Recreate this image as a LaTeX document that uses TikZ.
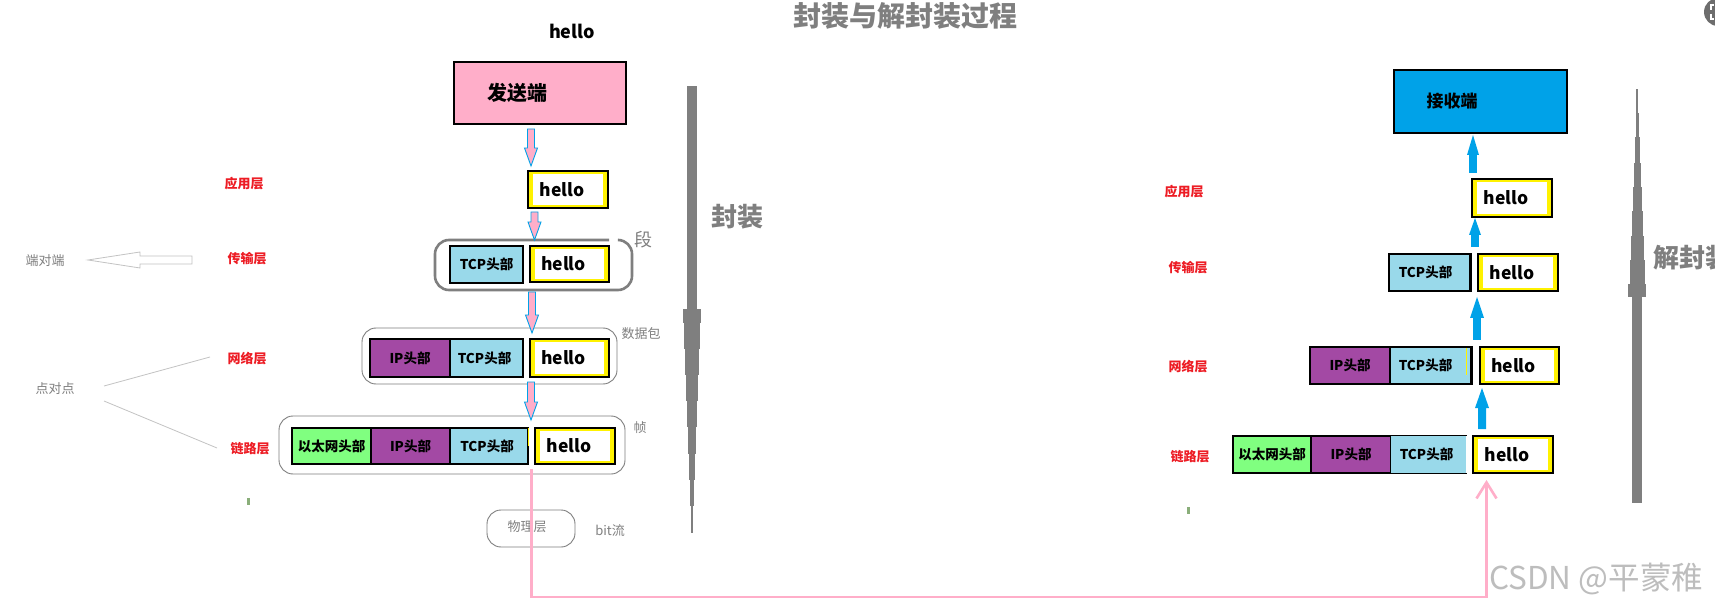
\documentclass[tikz,border=0pt]{standalone}
\usepackage{fontspec}
\newfontfamily\cjk{Noto Sans CJK SC}
\usetikzlibrary{arrows.meta}
\definecolor{pinkP}{HTML}{FFAEC9}
\definecolor{blueP}{HTML}{00A2E8}
\definecolor{lblue}{HTML}{99D9EA}
\definecolor{purpleP}{HTML}{A349A4}
\definecolor{greenP}{HTML}{80FF80}
\definecolor{yellowP}{HTML}{FFF200}
\definecolor{redP}{HTML}{ED1C24}
\definecolor{grayP}{HTML}{7F7F7F}
\definecolor{lgrayP}{HTML}{C3C3C3}
\definecolor{tickG}{HTML}{8AAE7A}
\definecolor{iconG}{HTML}{6D6D6D}
\definecolor{wmark}{HTML}{BDBDBD}
\begin{document}
\begin{tikzpicture}[x=1pt,y=-1pt,
  box/.style={draw=black, line width=1.2pt, inner sep=0pt, text=black,
    font=\cjk\bfseries\fontsize{13.5}{14}\selectfont},
  hellobox/.style={draw=black, line width=1.2pt, fill=yellowP, inner sep=0pt,
    font=\cjk\bfseries\fontsize{17.5}{18}\selectfont,
    path picture={\fill[white] ([xshift=5pt,yshift=3pt]path picture bounding box.south west)
      rectangle ([xshift=-5pt,yshift=-3pt]path picture bounding box.north east);}},
  layer/.style={font=\cjk\bfseries\fontsize{13}{13}\selectfont, text=redP, inner sep=0pt},
  note/.style={font=\cjk\fontsize{13}{13}\selectfont, text=grayP, inner sep=0pt},
  group/.style={draw=grayP, line width=0.9pt, rounded corners=14pt},
  pinkarrow/.style={fill=pinkP, draw=blueP, line width=0.9pt},
  bluearrow/.style={fill=blueP},
  pinkline/.style={draw=pinkP, line width=2.6pt},
  bigtitle/.style={font=\cjk\bfseries\fontsize{28}{30}\selectfont, text=grayP, inner sep=0pt},
  sidetitle/.style={font=\cjk\bfseries\fontsize{26}{27}\selectfont, text=grayP, inner sep=0pt}
]
\path[use as bounding box, fill=white] (0,0) rectangle (1715,609);
\clip (0,0) rectangle (1715,609);

% title
\node[bigtitle] (title) at (905,16) {封装与解封装过程};
\node[font=\cjk\bfseries\fontsize{18}{18}\selectfont, inner sep=0pt] (tophello) at (572,31) {hello};

% ---------- sender ----------
\node[box, fill=pinkP, minimum width=172pt, minimum height=62pt,
  font=\cjk\bfseries\fontsize{20}{20}\selectfont] (sSend) at (540,93) {发送端\kern46pt};
\node[hellobox, minimum width=80pt, minimum height=37pt] (sAppHello) at (568,189.5) {hello\kern12pt};

\draw[group, line width=2.6pt] (609,240) -- (435,240) -- (435,290) -- (632,290) -- (632,240) -- (619,240);
\node[box, fill=lblue, minimum width=73pt, minimum height=37pt] (sTrTCP) at (486.5,264.5) {TCP头部};
\node[hellobox, minimum width=79pt, minimum height=36pt] (sTrHello) at (569.5,264) {hello\kern12pt};

\draw[group] (362,328) rectangle (617,384);
\node[box, fill=purpleP, minimum width=80pt, minimum height=38pt] (sNetIP) at (410,358) {IP头部};
\node[box, fill=lblue, minimum width=73pt, minimum height=38pt] (sNetTCP) at (486.5,358) {TCP头部\kern4pt};
\node[hellobox, minimum width=79pt, minimum height=38pt] (sNetHello) at (569.5,358) {hello\kern12pt};

\draw[group] (279,416) rectangle (625,474);
\node[box, fill=greenP, minimum width=79pt, minimum height=36pt] (sLinkEth) at (331.5,446) {以太网头部};
\node[box, fill=purpleP, minimum width=79pt, minimum height=36pt] (sLinkIP) at (410.5,446) {IP头部};
\node[box, fill=lblue, minimum width=78pt, minimum height=36pt] (sLinkTCP) at (489,446) {TCP头部\kern4pt};
\fill[yellowP] (527.5,428) rectangle (529,446);
\node[hellobox, minimum width=80pt, minimum height=36pt] (sLinkHello) at (575,446) {hello\kern12pt};

\draw[group] (487,510) rectangle (575,547);
\node[note] (phys) at (527,527) {物理层};
\node[note] (bits) at (610,531) {bit流};

\node[font=\cjk\fontsize{18}{18}\selectfont, text=grayP, inner sep=0pt] (seg) at (643,240) {段};
\node[note] (pkt) at (641,334) {数据包};
\node[note] (frm) at (640,428) {帧};

% pink down arrows
\foreach \x/\a/\b in {531/129/166, 534.5/212/240, 532/292/333, 531/382/420}{
  \draw[pinkarrow] (\x-3.5,\a) -- (\x+3.5,\a) -- (\x+3.5,\b-18) -- (\x+6.5,\b-18) -- (\x,\b)
    -- (\x-6.5,\b-18) -- (\x-3.5,\b-18) -- cycle;
}

% layer labels (sender)
\node[layer] (sL1) at (244,184) {应用层};
\node[layer] (sL2) at (247,259) {传输层};
\node[layer] (sL3) at (247,359) {网络层};
\node[layer] (sL4) at (250,449) {链路层};

% left notes
\node[note] (e2e) at (45,261) {端对端};
\draw[lgrayP, line width=0.8pt, fill=white] (88,260) -- (140,252) -- (140,256) -- (192,256)
  -- (192,264) -- (140,264) -- (140,268) -- cycle;
\node[note] (p2p) at (55,389) {点对点};
\coordinate (pa1) at (104,386); \coordinate (pa2) at (210,357);
\coordinate (pb1) at (104,401); \coordinate (pb2) at (217,448);
\draw[lgrayP, line width=0.8pt] (pa1) -- (pa2);
\draw[lgrayP, line width=0.8pt] (pb1) -- (pb2);

% ticks
\fill[tickG] (247,498) rectangle (249.5,505);
\fill[tickG] (1187,507) rectangle (1189.5,514);

% encapsulation bar
\foreach \a/\b/\h in {86/309/5, 309/323/9, 323/349/8, 349/375/7, 375/401/6, 401/427/5,
  427/454/4, 454/480/3, 480/506/2, 506/533/1}{
  \fill[grayP] (692-\h,\a) rectangle (692+\h,\b);
}
\node[sidetitle] (enc) at (737,217) {封装};

% ---------- receiver ----------
\node[box, fill=blueP, minimum width=173pt, minimum height=63pt,
  font=\cjk\bfseries\fontsize{17}{17}\selectfont] (rRecv) at (1480.5,101.5) {接收端\kern57pt};
\node[hellobox, minimum width=80pt, minimum height=38pt] (rAppHello) at (1512,198) {hello\kern12pt};

\node[box, fill=lblue, minimum width=81pt, minimum height=37pt] (rTrTCP) at (1429.5,272.5) {TCP头部\kern8pt};
\draw[black, line width=2.4pt] (rTrTCP.north east) -- (rTrTCP.south east);
\node[hellobox, minimum width=80pt, minimum height=37pt] (rTrHello) at (1518,272.5) {hello\kern12pt};

\node[box, fill=purpleP, minimum width=80pt, minimum height=37pt] (rNetIP) at (1350,365.5) {IP头部};
\node[box, fill=lblue, minimum width=81pt, minimum height=37pt] (rNetTCP) at (1430.5,365.5) {TCP头部\kern10pt};
\draw[yellowP, line width=0.8pt] (1466,348) -- (1466,375);
\draw[black, line width=2.4pt] (rNetTCP.north east) -- (rNetTCP.south east);
\node[hellobox, minimum width=79pt, minimum height=37pt] (rNetHello) at (1519.5,365.5) {hello\kern12pt};

\node[box, fill=greenP, minimum width=78pt, minimum height=37pt] (rLinkEth) at (1272,454.5) {以太网头部};
\node[box, fill=purpleP, minimum width=80pt, minimum height=37pt] (rLinkIP) at (1351,454.5) {IP头部};
\node[box, draw=none, fill=lblue, minimum width=75pt, minimum height=37pt] (rLinkTCP) at (1428.5,454.5) {TCP头部\kern4pt};
\draw[black, line width=1.2pt] (rLinkTCP.north west) -- (rLinkTCP.north east)
  (rLinkTCP.south west) -- (rLinkTCP.south east);
\node[hellobox, minimum width=80pt, minimum height=37pt] (rLinkHello) at (1513,454.5) {hello\kern12pt};

% blue up arrows
\foreach \x/\a/\b/\hw/\sw/\hl in {1473/135/173/6/3.8/20, 1475/218/247/6/3.8/17, 1477/297/340/7/3.8/21, 1482/388/429/7/4/20}{
  \fill[bluearrow] (\x,\a) -- (\x+\hw,\a+\hl) -- (\x+\sw,\a+\hl) -- (\x+\sw,\b) -- (\x-\sw,\b)
    -- (\x-\sw,\a+\hl) -- (\x-\hw,\a+\hl) -- cycle;
}

\node[layer] (rL1) at (1184,192) {应用层};
\node[layer] (rL2) at (1188,268) {传输层};
\node[layer] (rL3) at (1188,367) {网络层};
\node[layer] (rL4) at (1190,457) {链路层};

% decapsulation bar
\foreach \a/\b/\h in {89/113/1, 113/137/1.5, 137/163/2.5, 163/187/3.5, 187/211/4.5, 211/236/5.5,
  236/260/6.5, 260/284/7.5, 284/297/9, 297/503/4.7}{
  \fill[grayP] (1637-\h,\a) rectangle (1637+\h,\b);
}
\node[sidetitle, anchor=west] (dec) at (1653,258) {解封装};

% pink transmission line
\coordinate (pA) at (531.5,469);
\coordinate (pB) at (1486.5,480);
\draw[pinkline, line join=miter, -{Straight Barb[length=16pt,width=20pt]}]
  (pA) -- (pA |- 0,597) -- (pB |- 0,597) -- (pB);

% icon and watermark
\node[circle, fill=iconG, minimum size=28pt, inner sep=0pt] (icon) at (1718,12) {};
\draw[white, line width=1.2pt] (1714,5) -- (1711,5) -- (1711,10) (1711,14) -- (1711,19) -- (1714,19);
\node[font=\cjk\fontsize{31.5}{32}\selectfont, text=wmark, anchor=west, inner sep=0pt] (wm) at (1489,579) {CSDN @平蒙稚};
\end{tikzpicture}
\end{document}
